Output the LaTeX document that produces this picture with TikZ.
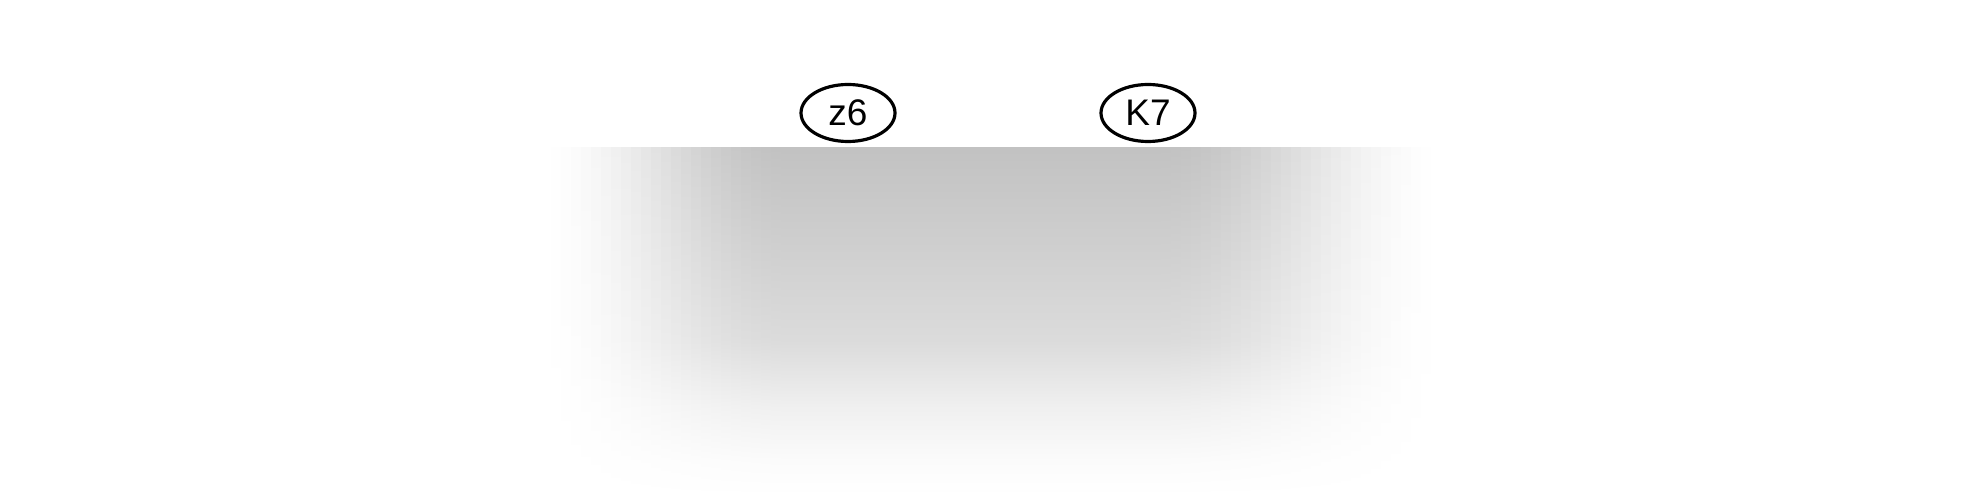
\documentclass[tikz,border=0pt]{standalone}
\usepackage{fontspec}
\setmainfont{Liberation Sans}
\usetikzlibrary{shapes.geometric}
\colorlet{sA}{black!24}
\colorlet{sB}{black!19}
\colorlet{sC}{black!14}
\colorlet{sD}{black!6}
\colorlet{sE}{black!1}
\pgfdeclareverticalshading[sA,sB,sC,sD,sE]{vstrip}{100bp}{%
  color(0bp)=(white); color(25bp)=(white); color(30bp)=(sE);
  color(37.75bp)=(sD); color(47.3bp)=(sC); color(61.7bp)=(sB);
  color(75bp)=(sA); color(100bp)=(sA)}
\tikzset{
  lbl/.style={ellipse, draw=black, line width=1.6pt, minimum width=47pt,
    minimum height=28.5pt, inner sep=0pt, font=\fontsize{18.5}{20}\selectfont}
}
\begin{document}
\begin{tikzpicture}[x=0.5pt,y=-0.5pt]
\useasboundingbox (0,0) rectangle (1980,496);
\fill[white] (0,0) rectangle (1980,496);
\foreach \i in {0,...,90} {
  \pgfmathsetmacro\xa{541+10*\i}
  \pgfmathsetmacro\xc{\xa+5}
  \pgfmathsetmacro\tl{max(0,min(1,(\xc-536)/250))}
  \pgfmathsetmacro\tr{max(0,min(1,(1450-\xc)/290))}
  \pgfmathsetmacro\tt{min(\tl,\tr)}
  \pgfmathsetmacro\hh{\tt*\tt*(3-2*\tt)}
  \pgfmathsetmacro\ca{24*\hh}
  \pgfmathsetmacro\cb{19.2*\hh}
  \pgfmathsetmacro\cc{14*\hh}
  \pgfmathsetmacro\cd{6*\hh}
  \pgfmathsetmacro\ce{1.5*\hh}
  \colorlet{sA}{black!\ca}
  \colorlet{sB}{black!\cb}
  \colorlet{sC}{black!\cc}
  \colorlet{sD}{black!\cd}
  \colorlet{sE}{black!\ce}
  \shade[shading=vstrip] (\xa,148) rectangle ({\xa+10.6},496);
}
\node[lbl] (z6) at (848,113) {z6};
\node[lbl] (K7) at (1148,113) {K7};
\end{tikzpicture}
\end{document}
